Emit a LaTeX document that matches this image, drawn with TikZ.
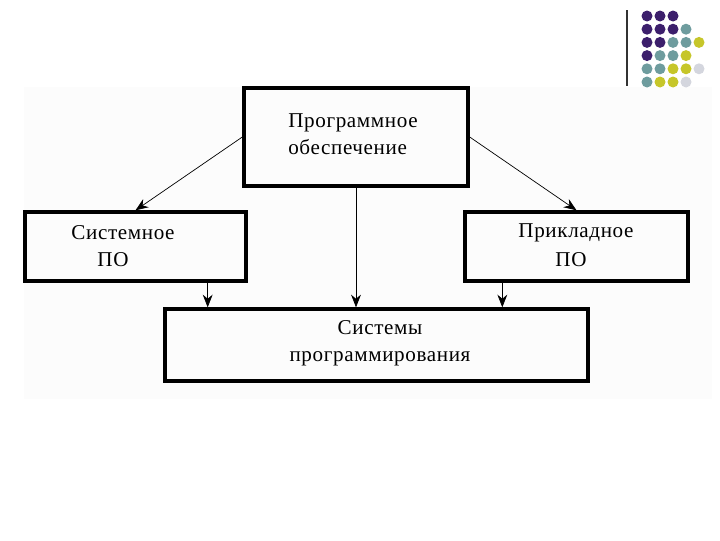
\documentclass[tikz,border=0pt]{standalone}
\usepackage{fontspec}
\setmainfont{Liberation Serif}
\usetikzlibrary{arrows.meta,calc}
\definecolor{dotP}{HTML}{3C1F6C}
\definecolor{dotT}{HTML}{6E9C9E}
\definecolor{dotY}{HTML}{C6C62A}
\definecolor{dotG}{HTML}{D4D6DE}
\definecolor{panel}{HTML}{FCFCFC}
\newfontfamily\boxfont[LetterSpace=3]{Liberation Serif}
\tikzset{
  block/.style={draw, line width=2.4pt, inner sep=0pt},
  lbl/.style={font=\boxfont\fontsize{15}{19}\selectfont, inner sep=0pt},
  arr/.style={-{Stealth[length=9pt,width=7pt]}, line width=0.5pt}
}
\begin{document}
\begin{tikzpicture}[x=0.025cm, y=-0.025cm]
\useasboundingbox (0,0) rectangle (720,540);
\fill[panel] (24,87) rectangle (712,399);
% corner ornament
\draw[line width=1pt, black!80] (627,10)--(627,86);
\foreach \c/\r/\col in {1/1/dotP,2/1/dotP,3/1/dotP,
  1/2/dotP,2/2/dotP,3/2/dotP,4/2/dotT,
  1/3/dotP,2/3/dotP,3/3/dotT,4/3/dotT,5/3/dotY,
  1/4/dotP,2/4/dotT,3/4/dotT,4/4/dotY,
  1/5/dotT,2/5/dotT,3/5/dotY,4/5/dotY,5/5/dotG,
  1/6/dotT,2/6/dotY,3/6/dotY,4/6/dotG}{
\fill[\col] (634+13*\c,2.8+13.2*\r) circle (5.5);
}
% boxes
\node[block, minimum width=224*0.025cm, minimum height=98*0.025cm] (prog) at (356,137) {};
\node[block, minimum width=221*0.025cm, minimum height=69*0.025cm] (sys) at (135.5,246.5) {};
\node[block, minimum width=223*0.025cm, minimum height=69*0.025cm] (app) at (576.5,246.5) {};
\node[block, minimum width=423*0.025cm, minimum height=72*0.025cm] (dev) at (376.5,345) {};
% texts
\node[lbl, align=left] (prog-t) at (353,134) {Программное\\обеспечение};
\node[lbl] (sys-t1) at (123,233) {Системное};
\node[lbl] (sys-t2) at (113,260) {ПО};
\node[lbl] (app-t1) at (576,233) {Прикладное};
\node[lbl] (app-t2) at (571,260) {ПО};
\node[lbl, align=center] (dev-t) at (380,343) {Системы\\программирования};
% arrows
\coordinate (s1) at ($(sys.south east)+(-40,0)$);
\coordinate (a1) at ($(app.south west)+(39,0)$);
\draw[arr] (prog.west)--(sys.north);
\draw[arr] (prog.east)--(app.north);
\draw[arr] (prog.south)--(prog.south |- dev.north);
\draw[arr] (s1)--(s1 |- dev.north);
\draw[arr] (a1)--(a1 |- dev.north);
\end{tikzpicture}
\end{document}
